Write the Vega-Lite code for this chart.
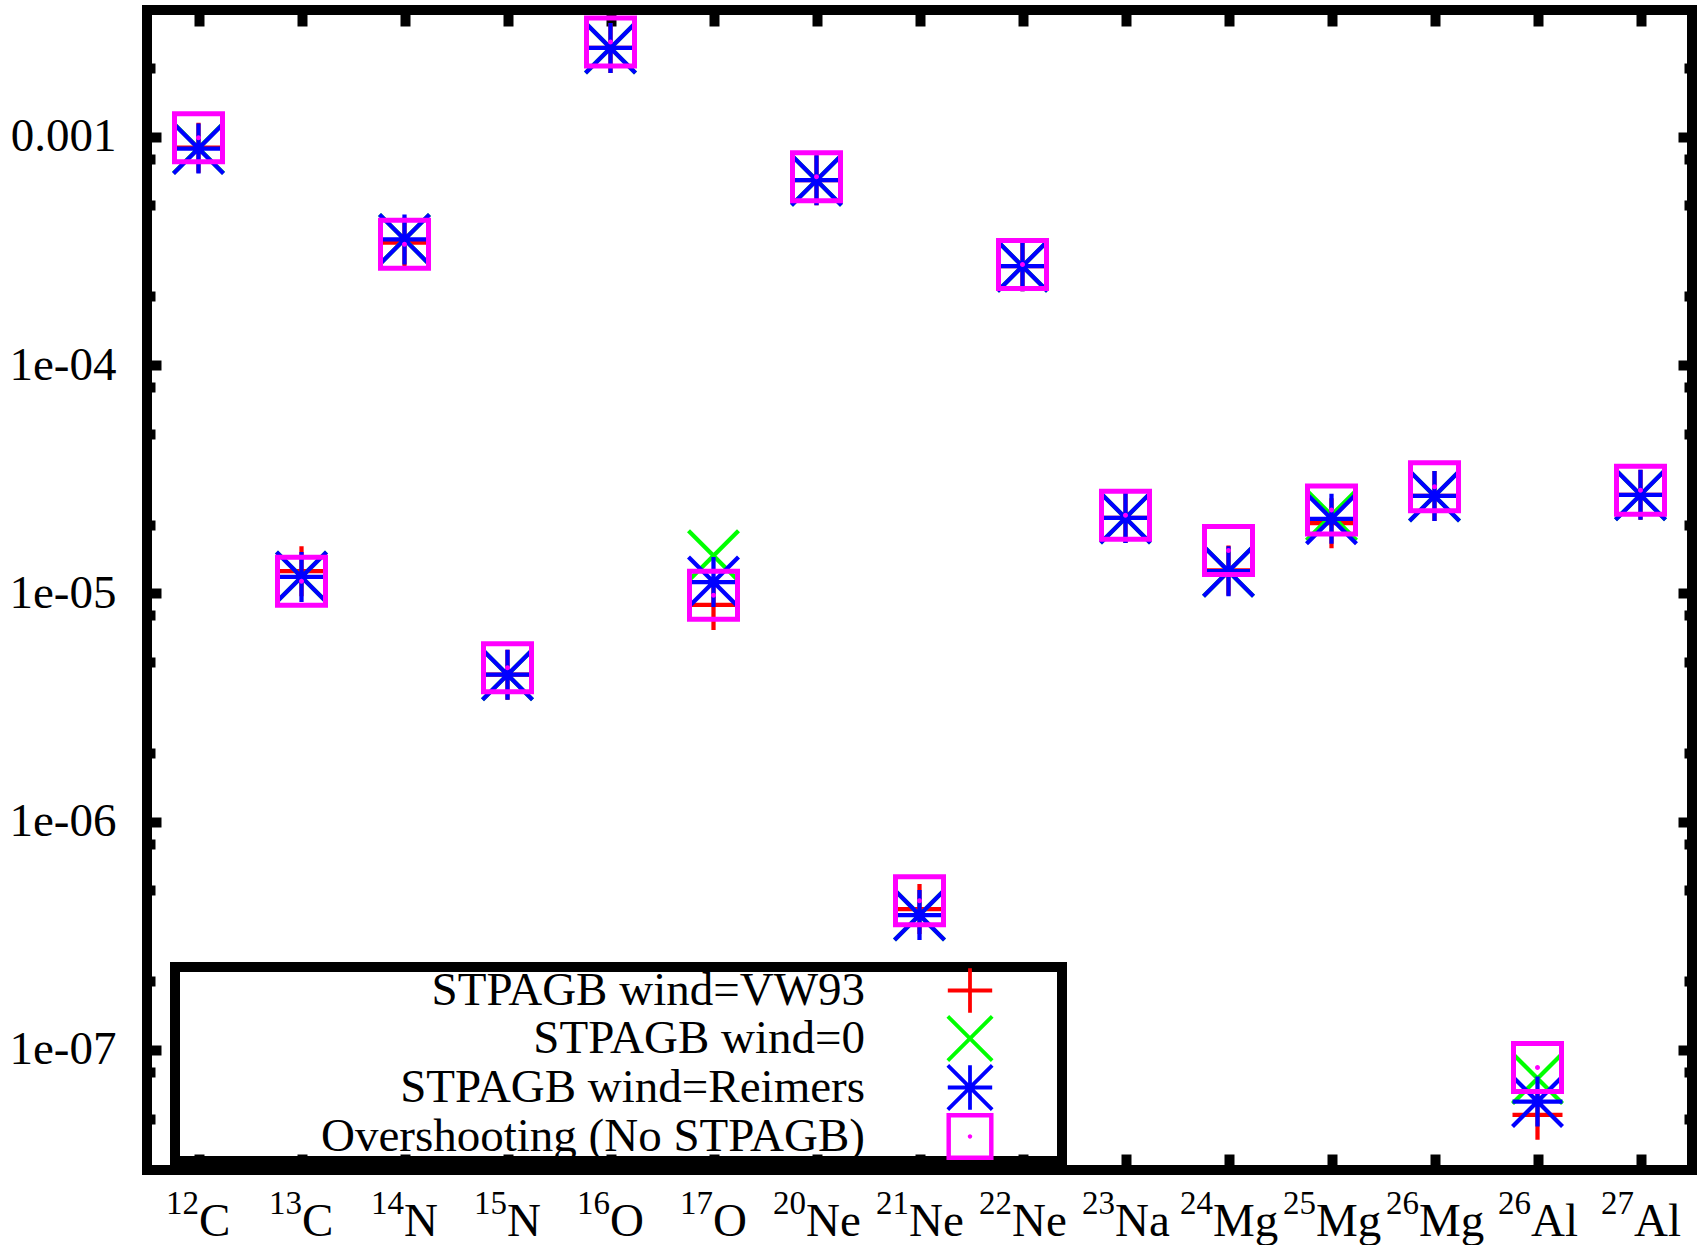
{
  "$schema": "https://vega.github.io/schema/vega-lite/v6.json",
  "width": 1545,
  "height": 1160,
  "autosize": {"type": "none"},
  "padding": {"left": 147, "top": 10, "right": 7, "bottom": 75},
  "background": "white",
  "config": {
    "view": {"stroke": "black", "strokeWidth": 10},
    "legend": {"strokeWidth": 10}
  },
  "data": {
    "values": [
      {"iso": "12C", "series": "STPAGB wind=VW93", "value": 8.95e-4},
      {"iso": "13C", "series": "STPAGB wind=VW93", "value": 1.25e-5},
      {"iso": "14N", "series": "STPAGB wind=VW93", "value": 3.44e-4},
      {"iso": "15N", "series": "STPAGB wind=VW93", "value": 4.4e-6},
      {"iso": "16O", "series": "STPAGB wind=VW93", "value": 2.45e-3},
      {"iso": "17O", "series": "STPAGB wind=VW93", "value": 8.9e-6},
      {"iso": "20Ne", "series": "STPAGB wind=VW93", "value": 6.45e-4},
      {"iso": "21Ne", "series": "STPAGB wind=VW93", "value": 4.14e-7},
      {"iso": "22Ne", "series": "STPAGB wind=VW93", "value": 2.71e-4},
      {"iso": "23Na", "series": "STPAGB wind=VW93", "value": 2.14e-5},
      {"iso": "24Mg", "series": "STPAGB wind=VW93", "value": 1.26e-5},
      {"iso": "25Mg", "series": "STPAGB wind=VW93", "value": 2.03e-5},
      {"iso": "26Mg", "series": "STPAGB wind=VW93", "value": 2.67e-5},
      {"iso": "26Al", "series": "STPAGB wind=VW93", "value": 5.2e-8},
      {"iso": "27Al", "series": "STPAGB wind=VW93", "value": 2.7e-5},
      {"iso": "12C", "series": "STPAGB wind=0", "value": 8.9e-4},
      {"iso": "13C", "series": "STPAGB wind=0", "value": 1.18e-5},
      {"iso": "14N", "series": "STPAGB wind=0", "value": 3.55e-4},
      {"iso": "15N", "series": "STPAGB wind=0", "value": 4.4e-6},
      {"iso": "16O", "series": "STPAGB wind=0", "value": 2.45e-3},
      {"iso": "17O", "series": "STPAGB wind=0", "value": 1.46e-5},
      {"iso": "20Ne", "series": "STPAGB wind=0", "value": 6.45e-4},
      {"iso": "21Ne", "series": "STPAGB wind=0", "value": 3.9e-7},
      {"iso": "22Ne", "series": "STPAGB wind=0", "value": 2.71e-4},
      {"iso": "23Na", "series": "STPAGB wind=0", "value": 2.14e-5},
      {"iso": "24Mg", "series": "STPAGB wind=0", "value": 1.25e-5},
      {"iso": "25Mg", "series": "STPAGB wind=0", "value": 2.2e-5},
      {"iso": "26Mg", "series": "STPAGB wind=0", "value": 2.67e-5},
      {"iso": "26Al", "series": "STPAGB wind=0", "value": 7.5e-8},
      {"iso": "27Al", "series": "STPAGB wind=0", "value": 2.7e-5},
      {"iso": "12C", "series": "STPAGB wind=Reimers", "value": 8.87e-4},
      {"iso": "13C", "series": "STPAGB wind=Reimers", "value": 1.18e-5},
      {"iso": "14N", "series": "STPAGB wind=Reimers", "value": 3.55e-4},
      {"iso": "15N", "series": "STPAGB wind=Reimers", "value": 4.4e-6},
      {"iso": "16O", "series": "STPAGB wind=Reimers", "value": 2.45e-3},
      {"iso": "17O", "series": "STPAGB wind=Reimers", "value": 1.12e-5},
      {"iso": "20Ne", "series": "STPAGB wind=Reimers", "value": 6.45e-4},
      {"iso": "21Ne", "series": "STPAGB wind=Reimers", "value": 3.9e-7},
      {"iso": "22Ne", "series": "STPAGB wind=Reimers", "value": 2.71e-4},
      {"iso": "23Na", "series": "STPAGB wind=Reimers", "value": 2.14e-5},
      {"iso": "24Mg", "series": "STPAGB wind=Reimers", "value": 1.25e-5},
      {"iso": "25Mg", "series": "STPAGB wind=Reimers", "value": 2.12e-5},
      {"iso": "26Mg", "series": "STPAGB wind=Reimers", "value": 2.67e-5},
      {"iso": "26Al", "series": "STPAGB wind=Reimers", "value": 5.94e-8},
      {"iso": "27Al", "series": "STPAGB wind=Reimers", "value": 2.7e-5},
      {"iso": "12C", "series": "Overshooting (No STPAGB)", "value": 9.9e-4},
      {"iso": "13C", "series": "Overshooting (No STPAGB)", "value": 1.13e-5},
      {"iso": "14N", "series": "Overshooting (No STPAGB)", "value": 3.38e-4},
      {"iso": "15N", "series": "Overshooting (No STPAGB)", "value": 4.72e-6},
      {"iso": "16O", "series": "Overshooting (No STPAGB)", "value": 2.6e-3},
      {"iso": "17O", "series": "Overshooting (No STPAGB)", "value": 9.8e-6},
      {"iso": "20Ne", "series": "Overshooting (No STPAGB)", "value": 6.68e-4},
      {"iso": "21Ne", "series": "Overshooting (No STPAGB)", "value": 4.5e-7},
      {"iso": "22Ne", "series": "Overshooting (No STPAGB)", "value": 2.76e-4},
      {"iso": "23Na", "series": "Overshooting (No STPAGB)", "value": 2.2e-5},
      {"iso": "24Mg", "series": "Overshooting (No STPAGB)", "value": 1.54e-5},
      {"iso": "25Mg", "series": "Overshooting (No STPAGB)", "value": 2.32e-5},
      {"iso": "26Mg", "series": "Overshooting (No STPAGB)", "value": 2.93e-5},
      {"iso": "26Al", "series": "Overshooting (No STPAGB)", "value": 8.38e-8},
      {"iso": "27Al", "series": "Overshooting (No STPAGB)", "value": 2.83e-5}
    ]
  },
  "resolve": {"axis": {"x": "independent", "y": "independent"}},
  "layer": [
    {
      "mark": {"type": "point", "filled": true, "size": 2500, "strokeWidth": 0, "opacity": 1},
      "encoding": {
        "x": {
          "field": "iso", "type": "nominal", "sort": null,
          "scale": {"type": "point", "padding": 0.5},
          "axis": {
            "orient": "bottom", "title": null, "domain": false, "grid": false,
            "ticks": true, "tickSize": -16, "tickWidth": 10, "tickColor": "black",
            "labelExpr": "replace(datum.label, regexp('[0-9]+'), '')",
            "labelFont": "Liberation Serif", "labelFontSize": 47, "labelColor": "black",
            "labelAngle": 0, "labelAlign": "left", "labelBaseline": "alphabetic",
            "labelPadding": 81, "labelOverlap": false, "labelBound": false, "labelFlush": false,
            "labelOffset": {"expr": "test(regexp('Mg'), datum.value) ? -16 : test(regexp('N[ea]'), datum.value) ? -11 : test(regexp('Al'), datum.value) ? -7 : test(regexp('C'), datum.value) ? 0 : -1"}
          }
        },
        "y": {
          "field": "value", "type": "quantitative",
          "scale": {"type": "log", "domain": [2.98e-8, 3.59e-3], "nice": false},
          "axis": {
            "orient": "left", "title": null, "domain": false, "grid": false,
            "values": [5e-8, 8e-8, 1e-7, 2e-7, 5e-7, 8e-7, 1e-6, 2e-6, 5e-6, 8e-6, 1e-5, 2e-5, 5e-5, 8e-5, 1e-4, 2e-4, 5e-4, 8e-4, 1e-3, 2e-3],
            "tickWidth": 10, "tickColor": "black",
            "tickSize": {"condition": {"test": "abs(log(datum.value)/LN10 - round(log(datum.value)/LN10)) < 0.001", "value": -14}, "value": -8},
            "labelExpr": "abs(log(datum.value)/LN10 - round(log(datum.value)/LN10)) < 0.001 ? (datum.value > 5e-4 ? '0.001' : '1e-0' + (-round(log(datum.value)/LN10))) : ''",
            "labelFont": "Liberation Serif", "labelFontSize": 47, "labelColor": "black",
            "labelAlign": "right", "labelBaseline": "middle", "labelPadding": 45,
            "labelOverlap": false, "labelBound": false, "labelFlush": false
          }
        },
        "shape": {
          "field": "series", "type": "nominal",
          "scale": {
            "domain": ["STPAGB wind=VW93", "STPAGB wind=0", "STPAGB wind=Reimers", "Overshooting (No STPAGB)"],
            "range": [
              "M-1,-0.085H1V0.085H-1ZM-0.085,-1H0.085V1H-0.085Z",
              "M-0.94,-1.06L1.06,0.94L0.94,1.06L-1.06,-0.94ZM-0.94,1.06L-1.06,0.94L0.94,-1.06L1.06,-0.94Z",
              "M-1,-0.085H1V0.085H-1ZM-0.085,-1H0.085V1H-0.085ZM-0.94,-1.06L1.06,0.94L0.94,1.06L-1.06,-0.94ZM-0.94,1.06L-1.06,0.94L0.94,-1.06L1.06,-0.94Z",
              "M-1.06,-1.06H1.06V1.06H-1.06ZM-0.86,-0.86V0.86H0.86V-0.86ZM-0.1,0A0.1,0.1,0,1,0,0.1,0A0.1,0.1,0,1,0,-0.1,0Z"
            ]
          },
          "legend": {
            "orient": "none", "legendX": 28, "legendY": 957,
            "title": " ", "titleOrient": "right", "titlePadding": 67.2,
            "strokeColor": "black", "padding": 0, "rowPadding": 0,
            "labelFont": "Liberation Serif", "labelFontSize": 47, "labelColor": "black",
            "labelAlign": "right", "labelBaseline": "middle", "labelLimit": 0,
            "labelOffset": -128.5, "symbolOffset": 771.5, "symbolSize": 1970, "symbolStrokeWidth": 0, "symbolOpacity": 1
          }
        },
        "color": {
          "field": "series", "type": "nominal",
          "scale": {
            "domain": ["STPAGB wind=VW93", "STPAGB wind=0", "STPAGB wind=Reimers", "Overshooting (No STPAGB)"],
            "range": ["#ff0000", "#00ff00", "#0000ff", "#ff00ff"]
          },
          "legend": {
            "orient": "none", "legendX": 28, "legendY": 957,
            "title": " ", "titleOrient": "right", "titlePadding": 67.2,
            "strokeColor": "black", "padding": 0, "rowPadding": 0,
            "labelFont": "Liberation Serif", "labelFontSize": 47, "labelColor": "black",
            "labelAlign": "right", "labelBaseline": "middle", "labelLimit": 0,
            "labelOffset": -128.5, "symbolOffset": 771.5, "symbolSize": 1970, "symbolStrokeWidth": 0, "symbolOpacity": 1
          }
        }
      }
    },
    {
      "mark": {"type": "point", "opacity": 0},
      "encoding": {
        "x": {
          "field": "iso", "type": "nominal", "sort": null,
          "scale": {"type": "point", "padding": 0.5},
          "axis": {
            "orient": "bottom", "title": null, "domain": false, "grid": false, "ticks": false,
            "labelExpr": "replace(datum.label, regexp('[A-Za-z]+'), '')",
            "labelFont": "Liberation Serif", "labelFontSize": 33, "labelColor": "black",
            "labelAngle": 0, "labelAlign": "right", "labelBaseline": "alphabetic",
            "labelPadding": 43, "labelOverlap": false, "labelBound": false, "labelFlush": false,
            "labelOffset": {"expr": "test(regexp('Mg'), datum.value) ? -16 : test(regexp('N[ea]'), datum.value) ? -11 : test(regexp('Al'), datum.value) ? -7 : test(regexp('C'), datum.value) ? 0 : -1"}
          }
        },
        "y": {
          "field": "value", "type": "quantitative",
          "scale": {"type": "log", "domain": [2.98e-8, 3.59e-3], "nice": false},
          "axis": {
            "orient": "right", "title": null, "domain": false, "grid": false, "labels": false,
            "values": [5e-8, 8e-8, 1e-7, 2e-7, 5e-7, 8e-7, 1e-6, 2e-6, 5e-6, 8e-6, 1e-5, 2e-5, 5e-5, 8e-5, 1e-4, 2e-4, 5e-4, 8e-4, 1e-3, 2e-3],
            "tickWidth": 10, "tickColor": "black",
            "tickSize": {"condition": {"test": "abs(log(datum.value)/LN10 - round(log(datum.value)/LN10)) < 0.001", "value": -14}, "value": -8}
          }
        }
      }
    },
    {
      "mark": {"type": "point", "opacity": 0},
      "encoding": {
        "x": {
          "field": "iso", "type": "nominal", "sort": null,
          "scale": {"type": "point", "padding": 0.5},
          "axis": {
            "orient": "top", "title": null, "domain": false, "grid": false, "labels": false,
            "ticks": true, "tickSize": -16, "tickWidth": 10, "tickColor": "black"
          }
        },
        "y": {
          "field": "value", "type": "quantitative",
          "scale": {"type": "log", "domain": [2.98e-8, 3.59e-3], "nice": false},
          "axis": null
        }
      }
    }
  ]
}
